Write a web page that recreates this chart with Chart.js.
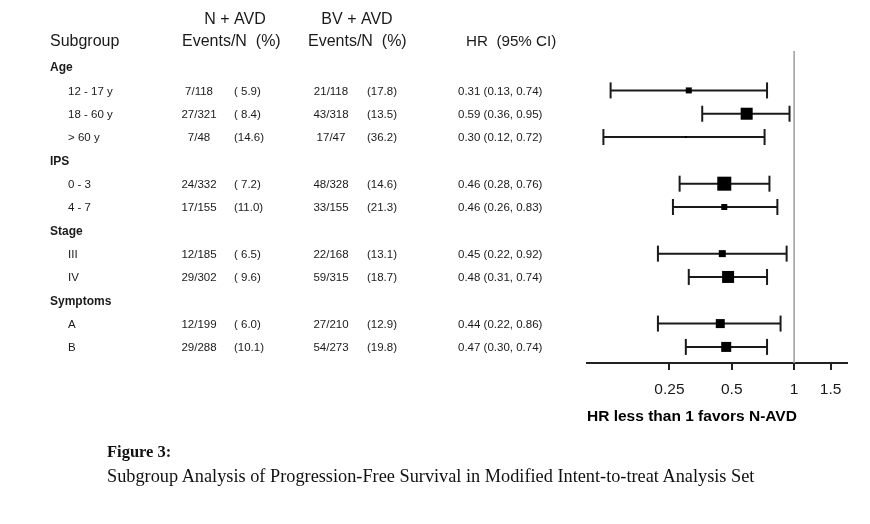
<!DOCTYPE html>
<html>
<head>
<meta charset="utf-8">
<script src="https://cdn.jsdelivr.net/npm/chart.js@4/dist/chart.umd.min.js"></script>
<style>
  html, body { margin: 0; padding: 0; background: #fff; }
  #wrap { position: relative; width: 870px; height: 524px; }
  #c { position: absolute; left: 0; top: 0; }
  .cap { position: absolute; left: 107px; font-family: "Liberation Serif", "Times New Roman", serif; color: #111; white-space: nowrap; line-height: 1; }
  #figno { top: 444px; font-size: 16.5px; font-weight: bold; }
  #figtitle { top: 467px; font-size: 18.3px; }
</style>
</head>
<body>
<div id="wrap">
  <canvas id="c" width="870" height="524"></canvas>
  <div class="cap" id="figno">Figure 3:</div>
  <div class="cap" id="figtitle">Subgroup Analysis of Progression-Free Survival in Modified Intent-to-treat Analysis Set</div>
</div>
<script>
// ---- data ----
const groups     = ['Age', 'IPS', 'Stage', 'Symptoms'];
const subgroups  = ['12 - 17 y', '18 - 60 y', '> 60 y', '0 - 3', '4 - 7', 'III', 'IV', 'A', 'B'];
const groupOf    = ['Age', 'Age', 'Age', 'IPS', 'IPS', 'Stage', 'Stage', 'Symptoms', 'Symptoms'];
const navdEvents = ['7/118', '27/321', '7/48', '24/332', '17/155', '12/185', '29/302', '12/199', '29/288'];
const navdPct    = ['( 5.9)', '( 8.4)', '(14.6)', '( 7.2)', '(11.0)', '( 6.5)', '( 9.6)', '( 6.0)', '(10.1)'];
const bvEvents   = ['21/118', '43/318', '17/47', '48/328', '33/155', '22/168', '59/315', '27/210', '54/273'];
const bvPct      = ['(17.8)', '(13.5)', '(36.2)', '(14.6)', '(21.3)', '(13.1)', '(18.7)', '(12.9)', '(19.8)'];
const hr         = [0.31, 0.59, 0.30, 0.46, 0.46, 0.45, 0.48, 0.44, 0.47];
const ciLow      = [0.13, 0.36, 0.12, 0.28, 0.26, 0.22, 0.31, 0.22, 0.30];
const ciHigh     = [0.74, 0.95, 0.72, 0.76, 0.83, 0.92, 0.74, 0.86, 0.74];
const weight     = [6, 12, 2, 14, 6, 7, 12, 9, 10];   // relative size of the HR marker
const xTicks     = [0.25, 0.5, 1, 1.5];
const xTitle     = 'HR less than 1 favors N-AVD';

// ---- build row layout (group header rows followed by their subgroups) ----
const rows = [];
groups.forEach(g => {
  rows.push({ type: 'group', label: g });
  subgroups.forEach((s, i) => { if (groupOf[i] === g) rows.push({ type: 'sub', label: s, i }); });
});
const rowOfSub = {};
rows.forEach((r, k) => { if (r.type === 'sub') rowOfSub[r.i] = k; });

const FONT = '"Liberation Sans", Arial, Helvetica, sans-serif';
const INK = '#1a1a1a';

const datasets = [];
// reference line at HR = 1
datasets.push({
  data: [{ x: 1, y: -0.69 }, { x: 1, y: rows.length - 0.31 }],
  borderColor: '#a3a3a3', borderWidth: 1.6, pointRadius: 0, order: 3
});
// confidence intervals with end caps
subgroups.forEach((s, i) => {
  const y = rowOfSub[i];
  datasets.push({
    data: [{ x: ciLow[i], y }, { x: ciHigh[i], y }],
    borderColor: INK, borderWidth: 2,
    pointStyle: 'line', pointRotation: 90, pointRadius: 8,
    pointBorderColor: INK, pointBorderWidth: 2, pointBackgroundColor: INK,
    order: 2
  });
});
// HR markers
datasets.push({
  data: hr.map((v, i) => ({ x: v, y: rowOfSub[i] })),
  showLine: false,
  pointStyle: 'rect',
  pointRadius: weight.map(w => w / Math.SQRT2),
  pointBackgroundColor: '#000', pointBorderWidth: 0,
  order: 1
});

const tablePlugin = {
  id: 'table',
  afterDraw(chart) {
    const ctx = chart.ctx;
    const ys = chart.scales.y;
    ctx.save();
    ctx.fillStyle = INK;
    ctx.textBaseline = 'middle';
    // column headers
    ctx.font = '16px ' + FONT;
    ctx.textAlign = 'center';
    ctx.fillText('N + AVD', 235, 20);
    ctx.fillText('BV + AVD', 357, 20);
    ctx.textAlign = 'left';
    ctx.fillText('Subgroup', 50, 42);
    ctx.fillText('Events/N  (%)', 182, 42);
    ctx.fillText('Events/N  (%)', 308, 42);
    ctx.font = '15.2px ' + FONT;
    ctx.fillText('HR  (95% CI)', 466, 42);
    // rows
    rows.forEach((r, k) => {
      const y = ys.getPixelForValue(k) + 1;
      if (r.type === 'group') {
        ctx.font = 'bold 12px ' + FONT;
        ctx.textAlign = 'left';
        ctx.fillText(r.label, 50, y);
      } else {
        const i = r.i;
        ctx.font = '11.5px ' + FONT;
        ctx.textAlign = 'left';
        ctx.fillText(r.label, 68, y);
        ctx.textAlign = 'center';
        ctx.fillText(navdEvents[i], 199, y);
        ctx.fillText(bvEvents[i], 331, y);
        ctx.textAlign = 'left';
        ctx.fillText(navdPct[i], 234, y);
        ctx.fillText(bvPct[i], 367, y);
        ctx.fillText(hr[i].toFixed(2) + ' (' + ciLow[i].toFixed(2) + ', ' + ciHigh[i].toFixed(2) + ')', 458, y);
      }
    });
    ctx.restore();
  }
};

new Chart(document.getElementById('c'), {
  type: 'line',
  data: { datasets },
  options: {
    responsive: false,
    devicePixelRatio: 1,
    animation: false,
    events: [],
    layout: { padding: { left: 587, right: 23, top: 51, bottom: 0 } },
    plugins: { legend: { display: false }, tooltip: { enabled: false }, title: { display: false } },
    scales: {
      x: {
        type: 'logarithmic',
        position: 'bottom',
        min: 0.1, max: 1.8,
        bounds: 'data',
        afterBuildTicks: (scale) => { scale.ticks = xTicks.map(v => ({ value: v })); },
        afterFit: (scale) => { scale.height = 161; },
        border: { display: true, color: '#222', width: 2 },
        grid: { display: true, drawOnChartArea: false, drawTicks: true, tickLength: 7, color: '#222', lineWidth: 2 },
        ticks: {
          autoSkip: false, maxRotation: 0, padding: 10,
          color: INK, font: { family: FONT, size: 15.5 },
          callback: (v) => String(v)
        },
        title: {
          display: true, text: xTitle, align: 'start',
          color: '#000', font: { family: FONT, size: 15.5, weight: 'bold' },
          padding: { top: 0, bottom: 98 }
        }
      },
      y: {
        type: 'linear', reverse: true, display: false,
        min: -0.69, max: rows.length - 0.31
      }
    }
  },
  plugins: [tablePlugin]
});
</script>
</body>
</html>
